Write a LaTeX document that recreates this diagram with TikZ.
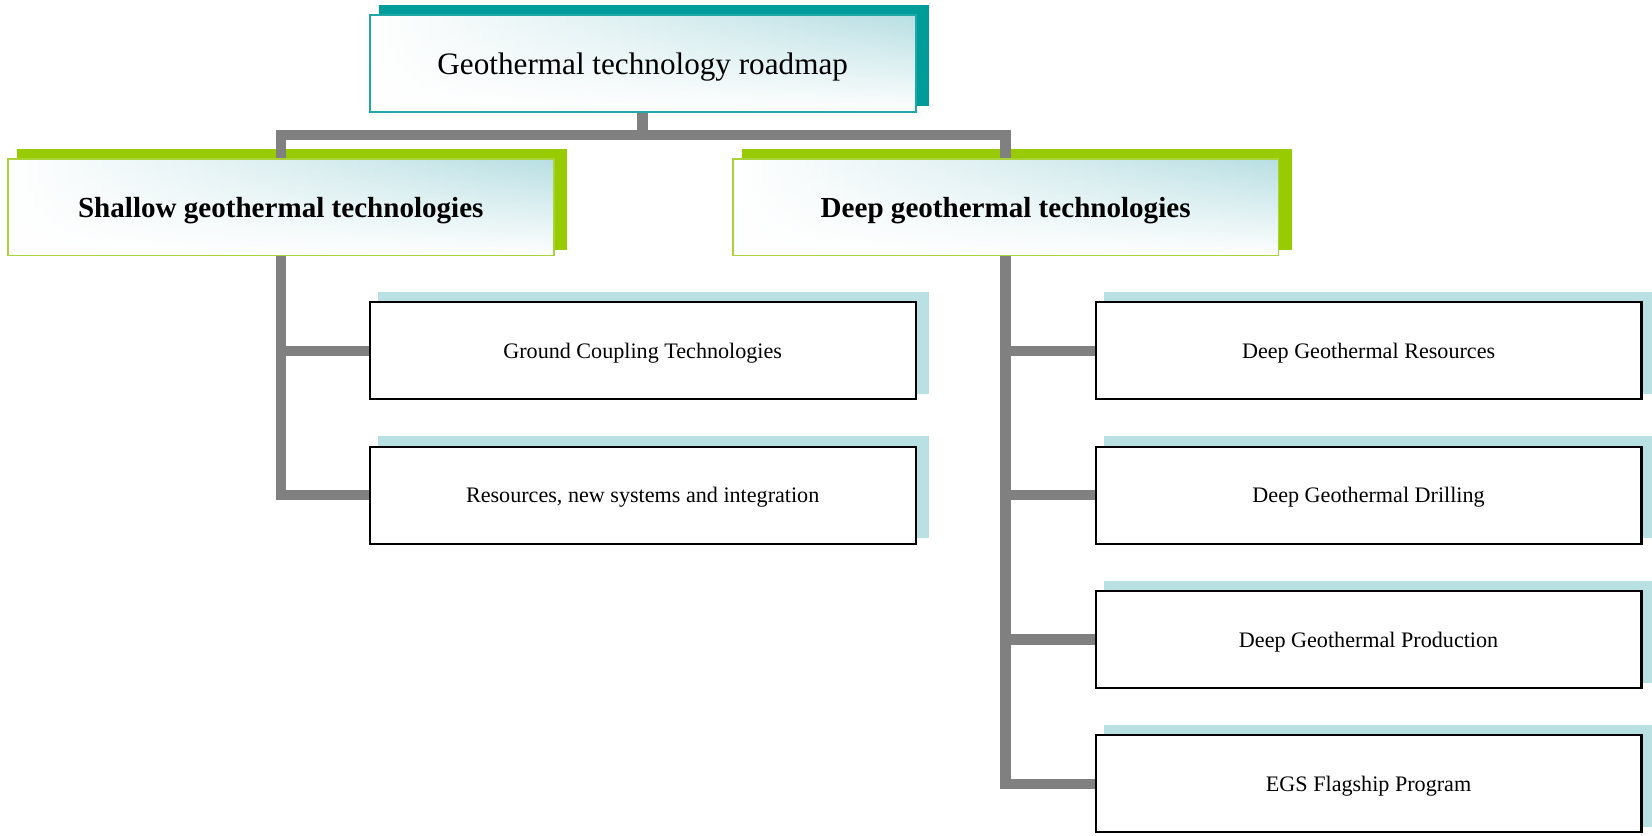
\documentclass[tikz,border=0pt]{standalone}
\usepackage{fontspec}
\setmainfont{Liberation Serif}
\usetikzlibrary{backgrounds,fadings}
\definecolor{tealdark}{HTML}{009C9A}
\definecolor{tealline}{HTML}{1FA8A6}
\definecolor{greenbar}{HTML}{99CC00}
\definecolor{greenline}{HTML}{A8D43A}
\definecolor{lightteal}{HTML}{B8DFE3}
\definecolor{childshadow}{HTML}{B9E0E3}
\definecolor{conngray}{HTML}{808080}
\tikzset{
  gradbox/.style={rectangle, inner sep=0pt, minimum width=259pt, minimum height=46pt,
    text depth=0pt,
    shade, left color=white, right color=lightteal,
    postaction={fill=white, path fading=north},
    postaction={draw=#1, line width=0.9pt}},
  rootbox/.style={gradbox=tealline, font=\fontsize{14.8}{17}\selectfont},
  catbox/.style={gradbox=greenline, font=\fontsize{13.8}{16}\selectfont\bfseries},
  childbox/.style={rectangle, inner sep=0pt, minimum width=259pt, minimum height=46pt,
    text depth=0pt,
    fill=white, draw=black, line width=1pt, font=\fontsize{10.5}{12}\selectfont},
  conn/.style={draw=conngray, line width=5pt},
}
\newcommand{\boxshadow}[2]{\fill[#2] ([xshift=4.5pt,yshift=4.5pt]#1.north west) rectangle ([xshift=6pt,yshift=3pt]#1.south east);}
\begin{document}
\begin{tikzpicture}[x=0.5pt,y=-0.5pt]
\useasboundingbox (0,0) rectangle (1568,793);
\clip (0,0) rectangle (1568,793);
\node[rootbox] (root) at (610,60) {Geothermal technology roadmap};
\node[catbox] (shallow) at (266.5,196.5) {Shallow geothermal technologies};
\node[catbox] (deep) at (954.5,196.5) {Deep geothermal technologies};
\node[childbox] (c1) at (610,333) {Ground Coupling Technologies};
\node[childbox] (c2) at (610,470) {Resources, new systems and integration};
\node[childbox] (d1) at (1299,333) {Deep Geothermal Resources};
\node[childbox] (d2) at (1299,470) {Deep Geothermal Drilling};
\node[childbox] (d3) at (1299,607) {Deep Geothermal Production};
\node[childbox] (d4) at (1299,744) {EGS Flagship Program};
\coordinate (bar) at (610,128);
\begin{scope}[on background layer]
  \boxshadow{root}{tealdark}
  \boxshadow{shallow}{greenbar}
  \boxshadow{deep}{greenbar}
  \foreach \n in {c1,c2,d1,d2,d3,d4} {\boxshadow{\n}{childshadow}}
  \draw[conn] (root.south) -- (root.south |- bar);
  \draw[conn] (shallow.north) -- (shallow.north |- bar) -- (deep.north |- bar) -- (deep.north);
  \draw[conn] (shallow.south) |- (c2.west);
  \draw[conn] (shallow.south |- c1.west) -- (c1.west);
  \draw[conn] (deep.south) |- (d4.west);
  \draw[conn] (deep.south |- d1.west) -- (d1.west);
  \draw[conn] (deep.south |- d2.west) -- (d2.west);
  \draw[conn] (deep.south |- d3.west) -- (d3.west);
\end{scope}
\end{tikzpicture}
\end{document}
